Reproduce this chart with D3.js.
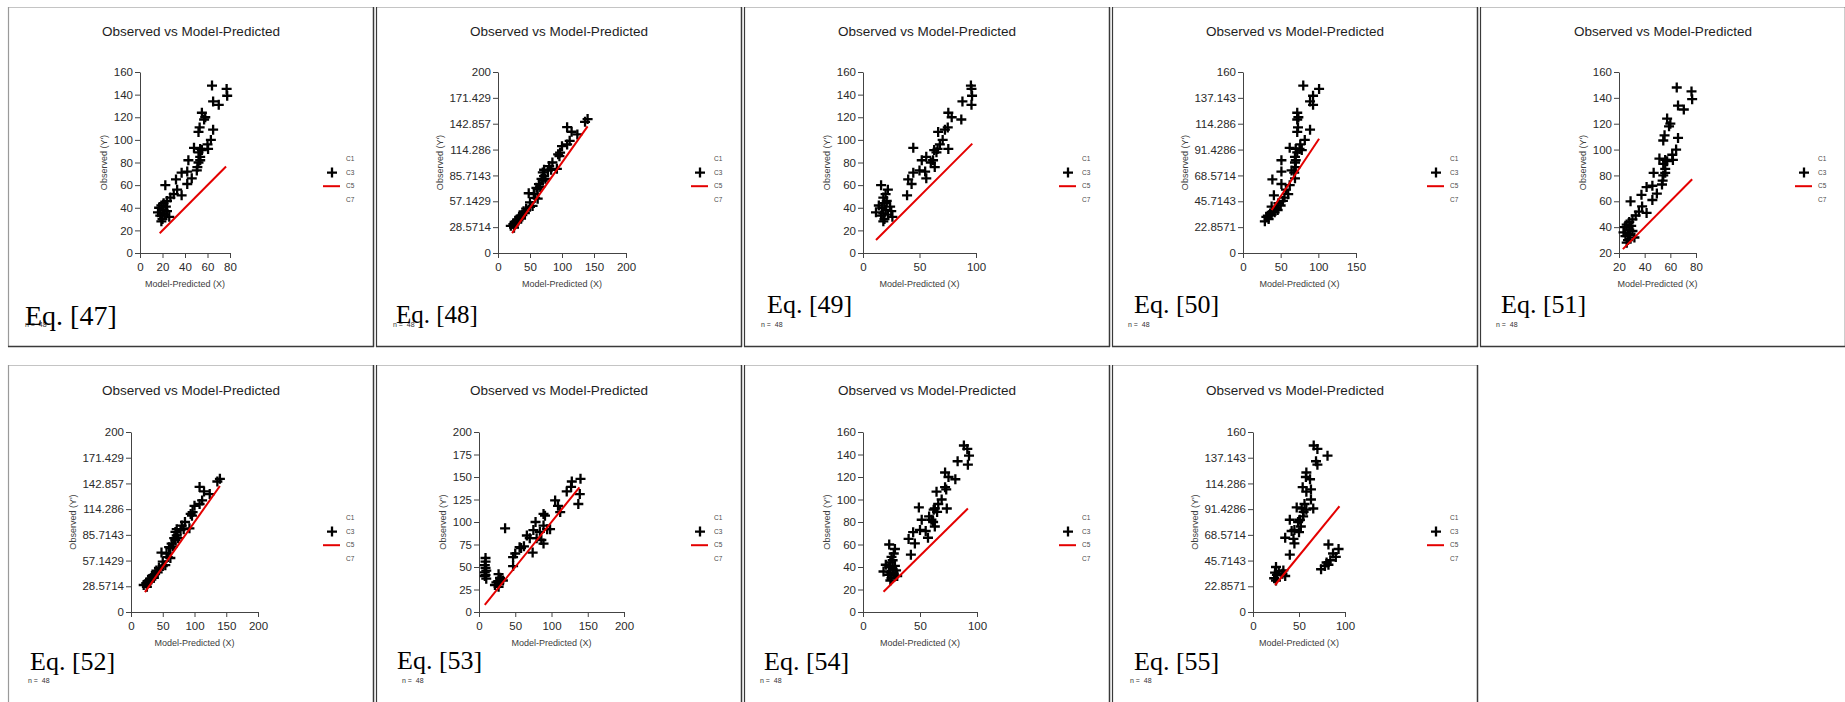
<!DOCTYPE html>
<html>
<head>
<meta charset="utf-8">
<script src="https://cdn.jsdelivr.net/npm/d3@7"></script>
<style>
  body { margin: 0; background: #fff; }
  svg { display: block; }
  .title { font-family: "Liberation Sans", Arial, sans-serif; font-size: 13.5px; fill: #1e1e1e; }
  .tick text { font-family: "Liberation Sans", Arial, sans-serif; font-size: 11.5px; fill: #2a2a2a; }
  .axis path, .axis line { stroke: #444; }
  .atitle { font-family: "Liberation Sans", Arial, sans-serif; font-size: 9px; fill: #3c3c3c; }
  .leg { font-family: "Liberation Sans", Arial, sans-serif; font-size: 6.5px; fill: #4a4a4a; }
  .eq { font-family: "Liberation Serif", "Times New Roman", serif; fill: #000; }
  .n { font-family: "Liberation Sans", Arial, sans-serif; font-size: 7px; fill: #333; }
</style>
</head>
<body>
<svg id="chart" width="1845" height="702"></svg>
<script>

// ===========================//
// DATA
// ===========================//

// observed values (Y), same 48 cases in every panel
var observed = [148,145,139,134,131, 124,120,118, 111,109,107, 100, 96,93,92,92,91,89,
  85,82,82,80, 76,73,72,71, 66,65,61,51,
  60,56,52,49,46,44,42,41,40,38,37,36,35,34,33,32,30,28]

// model-predicted values (X), one array per equation
var predEq47 = [64,77,77.5,65,70, 55,58,57, 53,65,52, 63, 60,48,53.5,60.5,55,52,
  53.5,43,53.5,52, 51,50.5,42,37, 46,32,42,37,
  22.5,33,30,27,24,21,19,23,17,21,24,16,20,22,18,26,20,19]
var predEq48 = [140,136,108,115,124, 112,108,100, 97,94,96, 85, 80,92,72,83,78,70,
  72,68,74,70, 64,66,60,62, 48,56,58,50,
  62,50,54,44,40,42,38,35,33,36,30,32,28,30,26,24,20,25]
var predEq49 = [95.5,96,96.5,88,96, 75.5,78.5,87, 75,72.5,66.5, 70.5, 68,44.5,66,75.5,63,65,
  56,52,62,60, 63.5,50,55,44.5, 56,40,43,39,
  16,22,20,18,21,19,14,24,17,20,25,11.5,18,22,16,26,19,18]
var predEq50 = [80,101,93,89,93, 72,73.5,72, 73,89,72, 82, 76,62,70,75,78,72,
  69,51,70,69, 70,64.5,51,68, 69,39,51,41,
  62,57,60,55,53,47,50,38,44,46,40,42,36,38,33,31,34,29]
var predEq51 = [65,76.5,77,66,70.5, 57.5,60,59, 55.5,66,54.5, 64.5, 61.5,51.5,56,62,57.5,54.5,
  56,47,56,54.5, 54,53.5,46,41.5, 49.5,37.5,46,41.5,
  29,38,35.5,33,30.5,28,26,29.5,24.5,28,30.5,23.5,27,28.5,25,32,27,26]
var predEq52 = [140,136,108,115,124, 112,108,100, 97,94,96, 85, 80,92,72,83,78,70,
  72,68,74,70, 64,66,60,62, 48,56,58,50,
  62,50,54,44,40,42,38,35,33,36,30,32,28,30,26,24,20,25]
var predEq53 = [140,128,127,121,139, 105,137,109, 112,89,91, 78, 89,36,98,94,75,84,
  66,79.5,70,86, 89,62,56,58, 74,50,47,47,
  9,9,8,9,10,8,27,9,8,29,10,30,33,26,24,28,22,27]
var predEq54 = [88.5,91.5,93,83,92, 72,75,81, 72,73,64.5, 69, 66,49,63,73.5,62,65,
  58,51.5,60,61.5, 63,50,55,44, 57,40,45.5,42,
  23,28,27,25,26,24,20,28,23,26,29,18,24,27,22,30,25,24]
var predEq55 = [66,70,81,68.5,70, 58,57.5,62, 54,63,58, 63, 56,47.5,53,65.5,58,55,
  54.5,40,51,49, 52,45,42,50, 35,44,45,40,
  82,93,87,90,84,80,82,78,25,74,33,28,24,32,26,35,23,25]

// 1:1 reference line (start, end)
var refLine47 = [17.5, 76.5]
var refLine48 = [22, 140]
var refLine49 = [11.5, 96.7]
var refLine50 = [38, 101]
var refLine51 = [23, 77]
var refLine52 = [22, 140]
var refLine53 = [8, 138.5]
var refLine54 = [18, 92]
var refLine55 = [24, 94]

// tick labels
var yTicks160 = ["0","20","40","60","80","100","120","140","160"]
var yTicks20to160 = ["20","40","60","80","100","120","140","160"]
var yTicks200by7 = ["0","28.5714","57.1429","85.7143","114.286","142.857","171.429","200"]
var yTicks160by7 = ["0","22.8571","45.7143","68.5714","91.4286","114.286","137.143","160"]
var yTicks200by25 = ["0","25","50","75","100","125","150","175","200"]
var xTicks80 = ["0","20","40","60","80"]
var xTicks20to80 = ["20","40","60","80"]
var xTicks100 = ["0","50","100"]
var xTicks150 = ["0","50","100","150"]
var xTicks200 = ["0","50","100","150","200"]

var legendLabels = ["C1","C3","C5","C7"]


// ===========================//
// LAYOUT
// ===========================//

var rows = [
  {top: 7,   bottom: 347, yTop: 72,  yBot: 253, titleY: 36,  legY: 159, nY: 327},
  {top: 365, bottom: 760, yTop: 432, yBot: 612, titleY: 395, legY: 518, nY: 683}
]

var panels = [
  {eq:"Eq. [47]", pred:predEq47, line:refLine47, yT:yTicks160,     xT:xTicks80,     row:0, col:0, ax:140,  aw:90,  eqX:17, eqY:325, eqSize:28, nX:17},
  {eq:"Eq. [48]", pred:predEq48, line:refLine48, yT:yTicks200by7,  xT:xTicks200,    row:0, col:1, ax:498,  aw:128, eqX:20, eqY:323, eqSize:25, nX:17},
  {eq:"Eq. [49]", pred:predEq49, line:refLine49, yT:yTicks160,     xT:xTicks100,    row:0, col:2, ax:863,  aw:113, eqX:23, eqY:313, eqSize:26, nX:17},
  {eq:"Eq. [50]", pred:predEq50, line:refLine50, yT:yTicks160by7,  xT:xTicks150,    row:0, col:3, ax:1243, aw:113, eqX:22, eqY:313, eqSize:26, nX:16},
  {eq:"Eq. [51]", pred:predEq51, line:refLine51, yT:yTicks20to160, xT:xTicks20to80, row:0, col:4, ax:1619, aw:77,  eqX:21, eqY:313, eqSize:26, nX:16},
  {eq:"Eq. [52]", pred:predEq52, line:refLine52, yT:yTicks200by7,  xT:xTicks200,    row:1, col:0, ax:131,  aw:127, eqX:22, eqY:670, eqSize:26, nX:20},
  {eq:"Eq. [53]", pred:predEq53, line:refLine53, yT:yTicks200by25, xT:xTicks200,    row:1, col:1, ax:479,  aw:145, eqX:21, eqY:669, eqSize:26, nX:26},
  {eq:"Eq. [54]", pred:predEq54, line:refLine54, yT:yTicks160,     xT:xTicks100,    row:1, col:2, ax:863,  aw:114, eqX:20, eqY:670, eqSize:26, nX:16},
  {eq:"Eq. [55]", pred:predEq55, line:refLine55, yT:yTicks160by7,  xT:xTicks100,    row:1, col:3, ax:1253, aw:92,  eqX:22, eqY:670, eqSize:26, nX:18}
]

var svg = d3.select("#chart")
var plusPath = "M-5,0H5M0,-5V5"


// ===========================//
// DRAW PANELS
// ===========================//

panels.forEach(function(p){

  var r = rows[p.row]
  var left = 8 + 368 * p.col
  var right = left + 366
  var g = svg.append("g")

  // frame of the pasted chart
  g.append("line").attr("x1", left).attr("x2", right).attr("y1", r.top + 0.5).attr("y2", r.top + 0.5)
    .attr("stroke", "#c4c4c4")
  g.append("line").attr("x1", left + 0.5).attr("x2", left + 0.5).attr("y1", r.top).attr("y2", r.bottom)
    .attr("stroke", p.col == 0 ? "#9a9a9a" : "#3a3a3a").attr("stroke-width", 1.2)
  g.append("line").attr("x1", right - 0.5).attr("x2", right - 0.5).attr("y1", r.top).attr("y2", r.bottom)
    .attr("stroke", "#3a3a3a").attr("stroke-width", 1.5)
  if (p.row == 0) {
    g.append("line").attr("x1", left).attr("x2", right).attr("y1", r.bottom - 0.5).attr("y2", r.bottom - 0.5)
      .attr("stroke", "#3a3a3a").attr("stroke-width", 1.5)
  }

  // scales
  var x = d3.scaleLinear()
    .domain([+p.xT[0], +p.xT[p.xT.length - 1]])
    .range([p.ax, p.ax + p.aw])
  var y = d3.scaleLinear()
    .domain([+p.yT[0], +p.yT[p.yT.length - 1]])
    .range([r.yBot, r.yTop])

  // title
  g.append("text").attr("class", "title")
    .attr("x", left + 183).attr("y", r.titleY)
    .attr("text-anchor", "middle")
    .text("Observed vs Model-Predicted")

  // y axis
  var yAxis = g.append("g").attr("class", "axis")
    .attr("transform", "translate(" + p.ax + ",0)")
    .call(d3.axisLeft(y)
      .tickValues(p.yT.map(Number))
      .tickFormat(function(d, i){ return p.yT[i] })
      .tickSize(5).tickSizeOuter(0).tickPadding(2))

  // x axis
  g.append("g").attr("class", "axis")
    .attr("transform", "translate(0," + r.yBot + ")")
    .call(d3.axisBottom(x)
      .tickValues(p.xT.map(Number))
      .tickFormat(function(d, i){ return p.xT[i] })
      .tickSize(5).tickSizeOuter(0).tickPadding(5))

  // axis titles
  var bb = yAxis.node().getBBox()
  var ytx = p.ax + bb.x - 10
  g.append("text").attr("class", "atitle")
    .attr("transform", "translate(" + ytx + "," + ((r.yTop + r.yBot) / 2) + ") rotate(-90)")
    .attr("text-anchor", "middle").attr("dy", "0.35em")
    .text("Observed (Y')")
  g.append("text").attr("class", "atitle")
    .attr("x", p.ax + p.aw / 2).attr("y", r.yBot + 34)
    .attr("text-anchor", "middle")
    .text("Model-Predicted (X)")

  // points
  g.selectAll(".pt")
    .data(d3.zip(p.pred, observed))
    .join("path")
      .attr("class", "pt")
      .attr("d", plusPath)
      .attr("transform", function(d){ return "translate(" + x(d[0]) + "," + y(d[1]) + ")" })
      .attr("stroke", "#000")
      .attr("stroke-width", 2.3)
      .attr("fill", "none")

  // 1:1 line
  g.append("line")
    .attr("x1", x(p.line[0])).attr("y1", y(p.line[0]))
    .attr("x2", x(p.line[1])).attr("y2", y(p.line[1]))
    .attr("stroke", "#e40000").attr("stroke-width", 2)

  // legend
  legendLabels.forEach(function(lab, k){
    g.append("text").attr("class", "leg")
      .attr("x", left + 338).attr("y", r.legY + k * 13.6)
      .attr("dy", "0.35em").text(lab)
  })
  g.append("path").attr("d", plusPath)
    .attr("transform", "translate(" + (left + 324) + "," + (r.legY + 13.6) + ")")
    .attr("stroke", "#000").attr("stroke-width", 2.3)
  g.append("line")
    .attr("x1", left + 315).attr("x2", left + 332)
    .attr("y1", r.legY + 27.2).attr("y2", r.legY + 27.2)
    .attr("stroke", "#e40000").attr("stroke-width", 2)

  // n and equation label
  g.append("text").attr("class", "n")
    .attr("x", left + p.nX).attr("y", r.nY)
    .text("n =  48").style("white-space", "pre")
  g.append("text").attr("class", "eq")
    .attr("x", left + p.eqX).attr("y", p.eqY)
    .style("font-size", p.eqSize + "px")
    .text(p.eq)

})

</script>
</body>
</html>
